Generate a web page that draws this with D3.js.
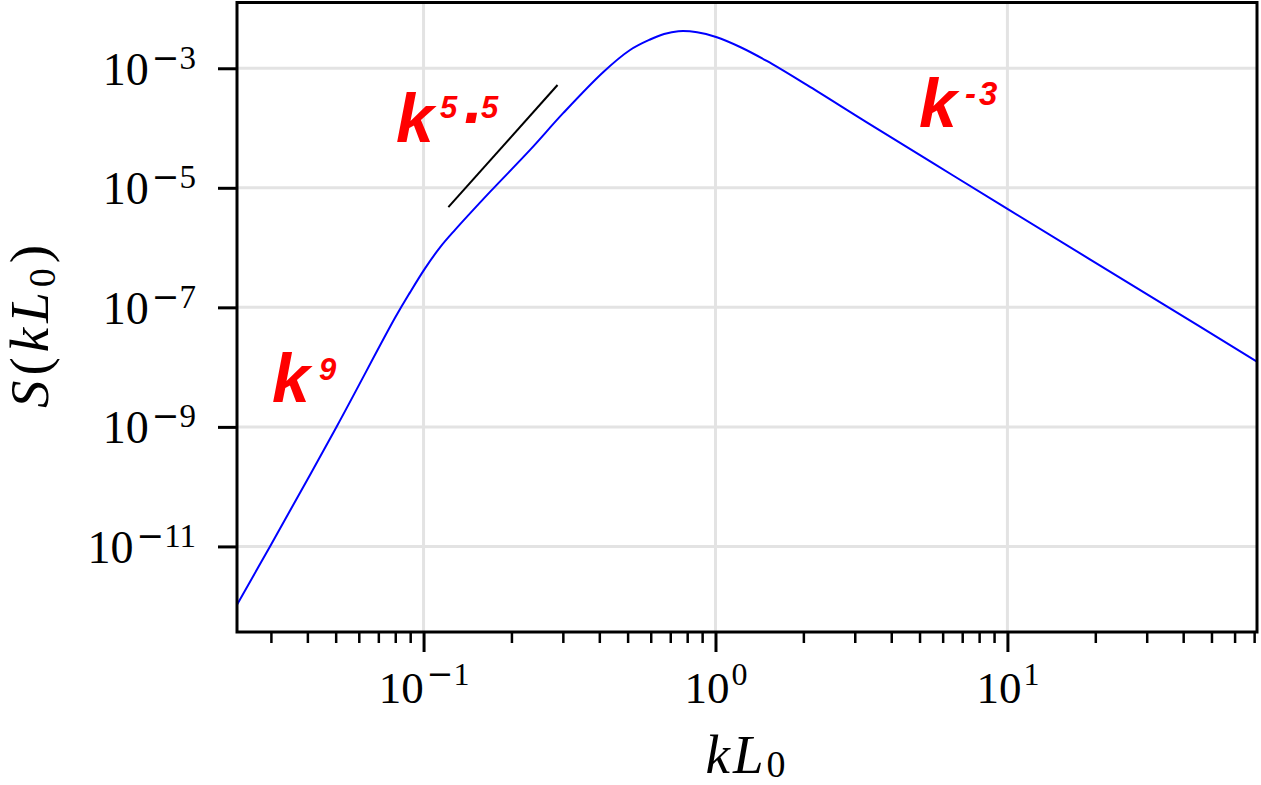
<!DOCTYPE html>
<html>
<head>
<meta charset="utf-8">
<script src="https://cdn.jsdelivr.net/npm/d3@7"></script>
<style>
  html, body { margin: 0; padding: 0; background: #fff; }
  svg { display: block; }
</style>
</head>
<body>
<svg id="chart" width="1261" height="785"></svg>
<script>
// ---- data ----
const kL0 = [0.02296, 0.02979, 0.05043, 0.07986, 0.0899, 0.10119, 0.11388, 0.1282, 0.16892, 0.23169,
             0.30124, 0.41302, 0.50979, 0.59698, 0.66667, 0.74645, 0.865, 1.0047, 1.2142, 1.4986,
             2.0552, 3.2986, 5.5797, 10.0, 35.16, 71.54];
const S = [1.059e-12, 1.0e-11, 1.016e-9, 6.675e-8, 1.781e-7, 4.489e-7, 1.008e-6, 1.977e-6, 8.54e-6, 4.303e-5,
           1.789e-4, 8.675e-4, 2.023e-3, 3.031e-3, 3.746e-3, 4.173e-3, 4.016e-3, 3.337e-3, 2.271e-3, 1.325e-3,
           5.256e-4, 1.241e-4, 2.559e-5, 4.438e-6, 1.039e-7, 1.24e-8];
const refK = [0.1216, 0.2877];
const refS = [4.74e-6, 5.25e-4];
const xDomain = [0.02296, 71.6];
const yDomain = [3.7e-13, 1.26e-2];
const xMajorTicks = [0.1, 1, 10];
const xMajorExp = ["\u22121", "0", "1"];
const yMajorTicks = [1e-3, 1e-5, 1e-7, 1e-9, 1e-11];
const yMajorExp = ["\u22123", "\u22125", "\u22127", "\u22129", "\u221211"];
const xMinorTicks = [];
[0.01, 0.1, 1, 10].forEach(d => { for (let m = 2; m <= 9; m++) { const v = m * d; if (v > xDomain[0] && v < xDomain[1]) xMinorTicks.push(v); } });

// ---- layout ----
const L = 237, R = 1257, T = 2.5, B = 632;
const svg = d3.select("#chart");
const x = d3.scaleLog().domain(xDomain).range([L, R]);
const y = d3.scaleLog().domain(yDomain).range([B, T]);

const serif = "'Liberation Serif', 'DejaVu Serif', serif";
const minusFont = "'DejaVu Sans', sans-serif";

// grid
const grid = svg.append("g");
grid.selectAll("line.gx").data(xMajorTicks).join("line")
  .attr("x1", d => x(d)).attr("x2", d => x(d)).attr("y1", T).attr("y2", B)
  .attr("stroke", "#e3e3e3").attr("stroke-width", 3);
grid.selectAll("line.gy").data(yMajorTicks).join("line")
  .attr("x1", L).attr("x2", R).attr("y1", d => y(d)).attr("y2", d => y(d))
  .attr("stroke", "#e3e3e3").attr("stroke-width", 3);

// clip
svg.append("clipPath").attr("id", "clip").append("rect")
  .attr("x", L).attr("y", T).attr("width", R - L).attr("height", B - T);

// curve
const pts = kL0.map((k, i) => [k, S[i]]);
svg.append("path").datum(pts)
  .attr("clip-path", "url(#clip)")
  .attr("fill", "none").attr("stroke", "#0000ff").attr("stroke-width", 2)
  .attr("d", d3.line().x(d => x(d[0])).y(d => y(d[1])).curve(d3.curveCatmullRom.alpha(0.5)));

// reference line
svg.append("path").datum(refK.map((k, i) => [k, refS[i]]))
  .attr("fill", "none").attr("stroke", "#000").attr("stroke-width", 2)
  .attr("d", d3.line().x(d => x(d[0])).y(d => y(d[1])));

// exponent label helper
function expLabel(t, exp, mainSize, supSize, rise) {
  t.append("tspan").attr("font-size", mainSize).text("10");
  const neg = exp.startsWith("\u2212");
  if (neg) {
    t.append("tspan").attr("font-size", supSize).attr("font-family", minusFont)
      .attr("dx", 3).attr("dy", -rise).text("\u2212");
    t.append("tspan").attr("font-size", supSize).text(exp.slice(1));
  } else {
    t.append("tspan").attr("font-size", supSize).attr("dx", 2).attr("dy", -rise).text(exp);
  }
}

// axes
const xMinorAxis = svg.append("g").attr("transform", `translate(0,${B})`)
  .call(d3.axisBottom(x).tickValues(xMinorTicks).tickSize(11).tickFormat(""));
xMinorAxis.select(".domain").remove();
xMinorAxis.selectAll("line").attr("stroke", "#000").attr("stroke-width", 2.5);

const xAxis = svg.append("g").attr("transform", `translate(0,${B})`)
  .call(d3.axisBottom(x).tickValues(xMajorTicks).tickSize(20).tickPadding(0).tickFormat(""));
xAxis.select(".domain").remove();
xAxis.selectAll("line").attr("stroke", "#000").attr("stroke-width", 3);
xAxis.selectAll(".tick").each(function (d, i) {
  const t = d3.select(this).append("text")
    .attr("fill", "#000").attr("font-family", serif).attr("text-anchor", "middle")
    .attr("y", 703 - B);
  expLabel(t, xMajorExp[i], 45, 32, 18);
});

const yAxis = svg.append("g").attr("transform", `translate(${L},0)`)
  .call(d3.axisLeft(y).tickValues(yMajorTicks).tickSize(19).tickFormat(""));
yAxis.select(".domain").remove();
yAxis.selectAll("line").attr("stroke", "#000").attr("stroke-width", 3);
yAxis.selectAll(".tick").each(function (d, i) {
  const t = d3.select(this).append("text")
    .attr("fill", "#000").attr("font-family", serif).attr("text-anchor", "end")
    .attr("x", 196 - L).attr("y", 16);
  expLabel(t, yMajorExp[i], 46, 33, 16);
});

// frame
svg.append("rect").attr("x", L).attr("y", T).attr("width", R - L).attr("height", B - T)
  .attr("fill", "none").attr("stroke", "#000").attr("stroke-width", 3);

// axis labels
const xl = svg.append("text").attr("x", (L + R) / 2).attr("y", 773).attr("text-anchor", "middle")
  .attr("font-family", serif).attr("font-size", 55).attr("fill", "#000").attr("letter-spacing", 3);
xl.append("tspan").attr("font-style", "italic").text("kL");
xl.append("tspan").attr("font-size", 38).attr("dy", 4).text("0");

const yl = svg.append("text").attr("transform", `translate(48,${324}) rotate(-90)`)
  .attr("text-anchor", "middle").attr("font-family", serif).attr("font-size", 55).attr("fill", "#000")
  .attr("letter-spacing", 5);
yl.append("tspan").attr("font-style", "italic").text("S");
yl.append("tspan").text("(");
yl.append("tspan").attr("font-style", "italic").text("kL");
yl.append("tspan").attr("font-size", 38).attr("dy", 7).text("0");
yl.append("tspan").attr("dy", -7).text(")");

// red slope annotations (one text each, parts placed with tspans)
const sans = "'Liberation Sans', Arial, sans-serif";
function redLabel(parts) {
  const t = svg.append("text").attr("font-family", sans)
    .attr("font-weight", "bold").attr("font-style", "italic").attr("fill", "#ff0000");
  parts.forEach(p => {
    const s = t.append("tspan").attr("x", p.x).attr("y", p.y).attr("font-size", p.size).text(p.s);
    if (p.ls) s.attr("letter-spacing", p.ls);
  });
}
redLabel([{ s: "k", x: 272, y: 402, size: 68 }, { s: "9", x: 319, y: 380, size: 31 }]);
redLabel([{ s: "k", x: 396, y: 141.7, size: 68 }, { s: "5", x: 440, y: 118, size: 31 },
          { s: ".", x: 464, y: 123, size: 68 }, { s: "5", x: 481, y: 118, size: 31 }]);
redLabel([{ s: "k", x: 919, y: 127, size: 68 }, { s: "-3", x: 965, y: 105, size: 33, ls: 3 }]);
</script>
</body>
</html>
